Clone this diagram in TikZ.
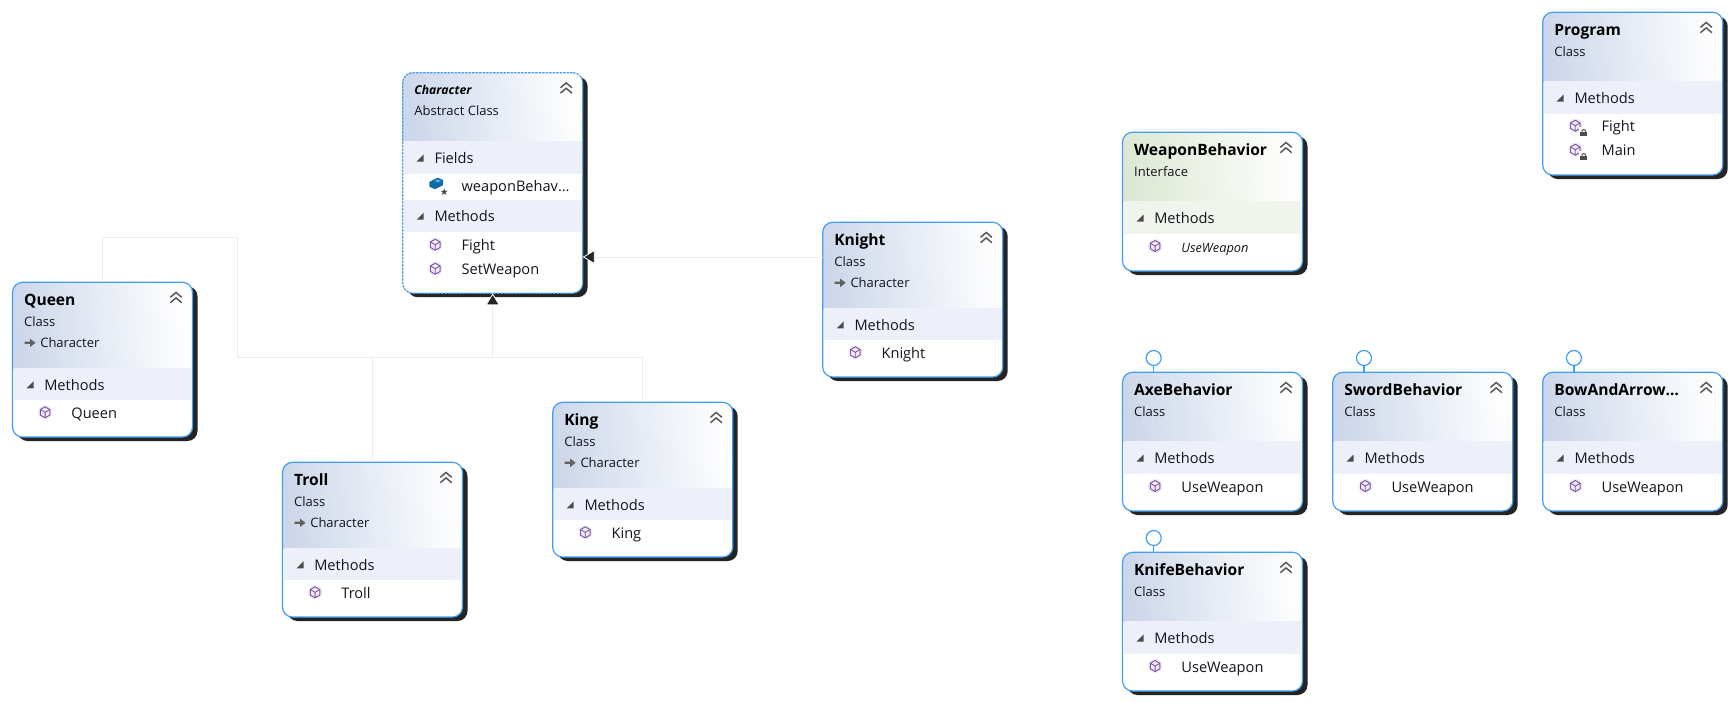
\documentclass[tikz,border=0pt]{standalone}
\usepackage{fontspec}
\setmainfont{Open Sans}
\usetikzlibrary{arrows.meta}
\definecolor{frameblue}{HTML}{3F9EF5}
\definecolor{shadowc}{HTML}{242424}
\definecolor{hdrclass}{HTML}{CDD7EA}
\definecolor{hdriface}{HTML}{DDE8D4}
\definecolor{bandclass}{HTML}{EDF0F8}
\definecolor{bandiface}{HTML}{F1F4EC}
\definecolor{linkc}{HTML}{EDEDED}
\definecolor{cubec}{HTML}{7A52A6}
\definecolor{ink}{HTML}{14141E}
\definecolor{fieldblue}{HTML}{0F6BA8}
\definecolor{fieldlight}{HTML}{58A8DC}
\tikzset{
  x=1pt,y=-1pt,
  umlframe/.style={draw=frameblue,line width=1.2pt,rounded corners=10pt,inner sep=0pt,outer sep=0pt,minimum width=180pt,anchor=north west},
  dashframe/.style={umlframe,dash pattern=on 2.5pt off 1pt},
  titletext/.style={anchor=base west,inner sep=0pt,font=\fontsize{15.6}{18}\selectfont\bfseries,text=black},
  smalltext/.style={anchor=base west,inner sep=0pt,font=\fontsize{13}{16}\selectfont,text=ink},
  labeltext/.style={anchor=base west,inner sep=0pt,font=\fontsize{14.6}{18}\selectfont,text=ink},
  itemtext/.style={anchor=base west,inner sep=0pt,font=\fontsize{14.6}{18}\selectfont,text=ink},
  italictem/.style={anchor=base west,inner sep=0pt,font=\fontsize{12.8}{14}\selectfont\itshape,text=ink},
  abstitle/.style={anchor=base west,inner sep=0pt,font=\fontsize{12.2}{14}\selectfont\bfseries\itshape,text=black},
  chevron/.style={draw=black!65,line width=1.5pt},
  link/.style={draw=linkc,line width=0.9pt},
  hollow/.style={-{Triangle[length=12pt,width=14pt,color=white,fill=shadowc,line width=0.8pt]}},
  lollipop/.style={circle,draw=frameblue,fill=white,line width=1.2pt,minimum size=15pt,inner sep=0pt,outer sep=0pt},
  lollistem/.style={draw=frameblue,line width=1.2pt},
  methodcube/.pic={
    \fill[cubec!12] (0,0) circle (7);
    \draw[cubec,line width=0.9pt,line join=round] (0,-5.5)--(4.8,-2.75)--(4.8,2.75)--(0,5.5)--(-4.8,2.75)--(-4.8,-2.75)--cycle;
    \draw[cubec,line width=0.8pt] (-4.8,-2.75)--(0,0)--(4.8,-2.75) (0,0)--(0,5.5);
  },
  padlock/.pic={
    \fill[white] (-4.5,-5) rectangle (4.5,5);
    \fill[black!70] (-3.3,-0.5) rectangle (3.3,4);
    \draw[black!70,line width=1pt] (-2,-0.5) arc[start angle=180,end angle=360,radius=2];
  },
  fieldbox/.pic={
    \fill[fieldblue] (-6.8,-1.8)--(1.5,-6)--(6.8,-3.8)--(6.8,1.5)--(-1.2,5.5)--(-6.8,3)--cycle;
    \fill[fieldlight] (-1.5,-2.6)--(1.6,-4.4)--(5,-3)--(1.8,-1.2)--cycle;
    \fill[white] (8,8) circle (5);
    \fill[black!70] (8,4.5)--(8.9,7.1)--(11.6,7.1)--(9.4,8.7)--(10.2,11.3)--(8,9.7)--(5.8,11.3)--(6.6,8.7)--(4.4,7.1)--(7.1,7.1)--cycle;
  },
  genarrow/.pic={
    \fill[black!62] (-5.5,-1.1)--(0,-1.1)--(0,-4.2)--(5.5,0)--(0,4.2)--(0,1.1)--(-5.5,1.1)--cycle;
  },
}
% box body: name, height, header height, kind (class/iface), frame style
\newcommand{\umlbody}[5]{%
  \fill[shadowc,rounded corners=10pt] (5,4) rectangle (185,#2+4);
  \fill[white,rounded corners=10pt] (0,0) rectangle (180,#2);
  \begin{scope}
    \clip[rounded corners=10pt] (0,0) rectangle (180,#2);
    \shade[left color=hdr#4,right color=white,shading angle=97] (0,0) rectangle (180,#3);
    \draw[black!18,line width=0.9pt] (0,#3) -- (180,#3);
  \end{scope}
  \node[#5,minimum height=#2pt] (#1) at (0,0) {};
  \draw[chevron] (157.8,15)--(163.5,10.2)--(169.2,15) (157.8,20.4)--(163.5,15.6)--(169.2,20.4);
}
% band: node name, kind, top, bottom, label
\newcommand{\umlband}[5]{%
  \fill[band#2] (1,#3) rectangle (179,#4);
  \fill[black!70] (14,{(#3+#4)/2+4})--(21,{(#3+#4)/2+4})--(21,{(#3+#4)/2-3})--cycle;
  \node[labeltext] (#1) at (31.6,#3+22) {#5};
}
% method row: node name, baseline, text, style
\newcommand{\umlitem}[4]{%
  \pic at (32.6,#2-6) {methodcube};
  \node[#4] (#1) at (58.7,#2) {#3};
}
\newcommand{\parentline}[2]{%
  \pic at (17.5,60.5) {genarrow};
  \node[smalltext] (#1) at (27.6,65) {#2};
}
\begin{document}
\begin{tikzpicture}
\useasboundingbox (0,0) rectangle (1734,702);
\fill[white] (0,0) rectangle (1734,702);

% Character
\begin{scope}[shift={(402.7,72.7)}]
  \umlbody{character}{220.5}{68.3}{class}{dashframe}
  \node[abstitle] (charT) at (11.5,22) {Character};
  \node[smalltext] (charS) at (11.5,43) {Abstract Class};
  \umlband{charF}{class}{68.3}{101.3}{Fields}
  \pic at (33.5,111) {fieldbox};
  \node[itemtext] (charW) at (58.7,119) {weaponBehav…};
  \umlband{charM}{class}{127}{159}{Methods}
  \umlitem{charFi}{178}{Fight}{itemtext}
  \umlitem{charSe}{202}{SetWeapon}{itemtext}
\end{scope}

% Queen
\begin{scope}[shift={(12.5,282.3)}]
  \umlbody{queen}{154.7}{86}{class}{umlframe}
  \node[titletext] (queenT) at (11.4,23) {Queen};
  \node[smalltext] (queenS) at (11.5,44) {Class};
  \parentline{queenP}{Character}
  \umlband{queenM}{class}{86}{118}{Methods}
  \umlitem{queenI}{136}{Queen}{itemtext}
\end{scope}

% Troll
\begin{scope}[shift={(282.5,462.3)}]
  \umlbody{troll}{154.7}{86}{class}{umlframe}
  \node[titletext] (trollT) at (11.4,23) {Troll};
  \node[smalltext] (trollS) at (11.5,44) {Class};
  \parentline{trollP}{Character}
  \umlband{trollM}{class}{86}{118}{Methods}
  \umlitem{trollI}{136}{Troll}{itemtext}
\end{scope}

% King
\begin{scope}[shift={(552.7,402.3)}]
  \umlbody{king}{154.7}{86}{class}{umlframe}
  \node[titletext] (kingT) at (11.4,23) {King};
  \node[smalltext] (kingS) at (11.5,44) {Class};
  \parentline{kingP}{Character}
  \umlband{kingM}{class}{86}{118}{Methods}
  \umlitem{kingI}{136}{King}{itemtext}
\end{scope}

% Knight
\begin{scope}[shift={(822.7,222.3)}]
  \umlbody{knight}{154.7}{86}{class}{umlframe}
  \node[titletext] (knightT) at (11.4,23) {Knight};
  \node[smalltext] (knightS) at (11.5,44) {Class};
  \parentline{knightP}{Character}
  \umlband{knightM}{class}{86}{118}{Methods}
  \umlitem{knightI}{136}{Knight}{itemtext}
\end{scope}

% WeaponBehavior
\begin{scope}[shift={(1122.5,132.3)}]
  \umlbody{weapon}{138.7}{68.7}{iface}{umlframe}
  \node[titletext] (weaponT) at (11.4,23) {WeaponBehavior};
  \node[smalltext] (weaponS) at (11.5,44) {Interface};
  \umlband{weaponM}{iface}{68.7}{101.7}{Methods}
  \umlitem{weaponI}{119.7}{UseWeapon}{italictem}
\end{scope}

% Program
\begin{scope}[shift={(1542.7,12.3)}]
  \umlbody{program}{162.7}{68.7}{class}{umlframe}
  \node[titletext] (programT) at (11.4,23) {Program};
  \node[smalltext] (programS) at (11.5,44) {Class};
  \umlband{programM}{class}{68.7}{101.7}{Methods}
  \umlitem{programF}{119.4}{Fight}{itemtext}
  \pic at (41,119.8) {padlock};
  \umlitem{programI}{143.4}{Main}{itemtext}
  \pic at (41,143.8) {padlock};
\end{scope}

% AxeBehavior
\begin{scope}[shift={(1122.5,372.3)}]
  \umlbody{axe}{138.7}{68.7}{class}{umlframe}
  \node[titletext] (axeT) at (11.4,23) {AxeBehavior};
  \node[smalltext] (axeS) at (11.5,44) {Class};
  \umlband{axeM}{class}{68.7}{101.7}{Methods}
  \umlitem{axeI}{119.7}{UseWeapon}{itemtext}
  \node[lollipop] (axeL) at (31.2,-14.3) {};
  \draw[lollistem] (axeL.south) -- (31.2,0);
\end{scope}

% SwordBehavior
\begin{scope}[shift={(1332.7,372.3)}]
  \umlbody{sword}{138.7}{68.7}{class}{umlframe}
  \node[titletext] (swordT) at (11.4,23) {SwordBehavior};
  \node[smalltext] (swordS) at (11.5,44) {Class};
  \umlband{swordM}{class}{68.7}{101.7}{Methods}
  \umlitem{swordI}{119.7}{UseWeapon}{itemtext}
  \node[lollipop] (swordL) at (31.2,-14.3) {};
  \draw[lollistem] (swordL.south) -- (31.2,0);
\end{scope}

% BowAndArrow
\begin{scope}[shift={(1542.7,372.3)}]
  \umlbody{bow}{138.7}{68.7}{class}{umlframe}
  \node[titletext] (bowT) at (11.4,23) {BowAndArrow…};
  \node[smalltext] (bowS) at (11.5,44) {Class};
  \umlband{bowM}{class}{68.7}{101.7}{Methods}
  \umlitem{bowI}{119.7}{UseWeapon}{itemtext}
  \node[lollipop] (bowL) at (31.2,-14.3) {};
  \draw[lollistem] (bowL.south) -- (31.2,0);
\end{scope}

% KnifeBehavior
\begin{scope}[shift={(1122.5,552.3)}]
  \umlbody{knife}{138.7}{68.7}{class}{umlframe}
  \node[titletext] (knifeT) at (11.4,23) {KnifeBehavior};
  \node[smalltext] (knifeS) at (11.5,44) {Class};
  \umlband{knifeM}{class}{68.7}{101.7}{Methods}
  \umlitem{knifeI}{119.7}{UseWeapon}{itemtext}
  \node[lollipop] (knifeL) at (31.2,-14.3) {};
  \draw[lollistem] (knifeL.south) -- (31.2,0);
\end{scope}

% Inheritance connectors
\coordinate (bus) at (character.south |- 0,357.5);
\coordinate (leftbus) at (237.7,357.5);
\coordinate (queenup) at (queen.north |- 0,237.3);
\coordinate (eastport) at (character.east |- 0,257);
\draw[link] (troll.north) |- (bus);
\draw[link] (king.north) |- (bus);
\draw[link] (queen.north) -- (queenup) -| (leftbus) -- (bus);
\draw[link,hollow] (bus) -- (character.south);
\draw[link,hollow] (knight.west |- eastport) -- (eastport);
\end{tikzpicture}
\end{document}
